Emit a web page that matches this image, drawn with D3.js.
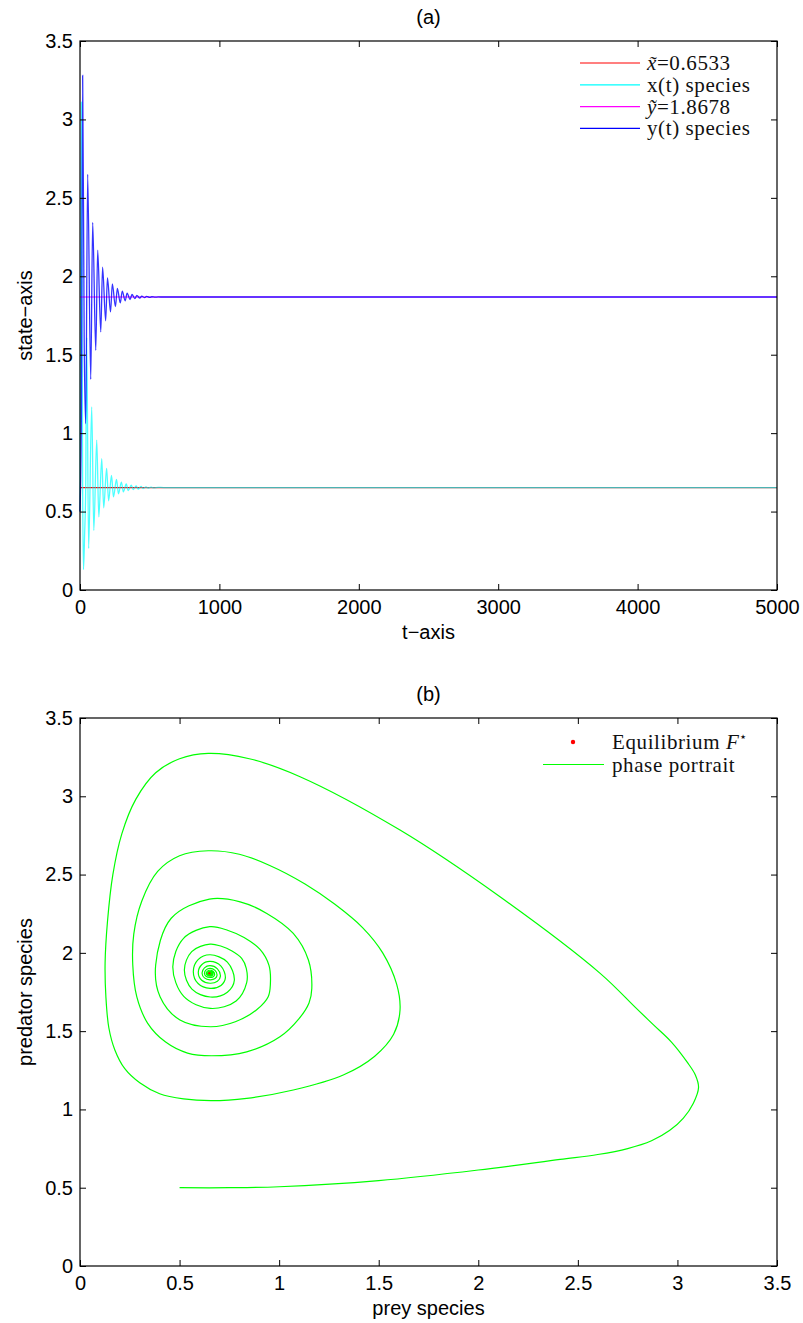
<!DOCTYPE html>
<html>
<head>
<meta charset="utf-8">
<script src="https://cdn.jsdelivr.net/npm/d3@7"></script>
<style>
  body { margin: 0; background: #fff; }
  .tick text { font-family: "Liberation Sans", Arial, sans-serif; font-size: 20px; fill: #000; }
  .tick line { stroke: #000; stroke-width: 1; }
  .lab { font-family: "Liberation Sans", Arial, sans-serif; font-size: 20px; fill: #000; }
  .leg { font-family: "Liberation Serif", "Times New Roman", serif; font-size: 21px; letter-spacing: 0.6px; fill: #111; }
</style>
</head>
<body>
<div id="chart"></div>
<script>
// equilibrium values
var xEq = 0.6533;
var yEq = 1.8678;

// tick labels
var tTicks = [0, 1000, 2000, 3000, 4000, 5000];
var stateTicks = [0, 0.5, 1, 1.5, 2, 2.5, 3, 3.5];
var preyTicks = [0, 0.5, 1, 1.5, 2, 2.5, 3, 3.5];
var predTicks = [0, 0.5, 1, 1.5, 2, 2.5, 3, 3.5];

// x(t) prey species, read at its turning points
var tX = [0, 4, 10, 15, 19, 25, 33, 41, 48, 62, 84, 99, 120, 135, 156, 170, 191, 205, 226, 240,
          262, 276, 297, 311, 332, 346, 368, 382, 403, 417, 438, 452, 474, 488, 510, 530, 560, 600, 5000];
var xT = [0.5, 1.6, 3.11, 1.8, 0.65, 0.13, 0.35, 0.66, 1.61, 0.265, 1.167, 0.38, 0.956, 0.466, 0.837, 0.524, 0.775, 0.569, 0.73, 0.594,
          0.705, 0.613, 0.688, 0.625, 0.676, 0.634, 0.668, 0.64, 0.663, 0.644, 0.66, 0.647, 0.657, 0.649, 0.6555, 0.651, 0.654, 0.6533, 0.6533];

// y(t) predator species, read at its turning points
var tY = [0, 10, 19, 30, 41, 55, 77, 91, 113, 127, 149, 162, 184, 197, 219, 232, 254, 268, 289, 303,
          324, 338, 359, 373, 394, 408, 429, 443, 464, 478, 500, 515, 540, 560, 600, 5000];
var yT = [0.5, 1.13, 3.28, 1.6, 1.06, 2.65, 1.343, 2.343, 1.528, 2.167, 1.645, 2.058, 1.716, 1.99, 1.773, 1.951, 1.807, 1.923, 1.83, 1.906,
          1.843, 1.893, 1.852, 1.884, 1.857, 1.878, 1.861, 1.874, 1.8635, 1.8715, 1.865, 1.8695, 1.8668, 1.8683, 1.8678, 1.8678];

// phase portrait (prey, predator), read along the trajectory
var phaseX = [0.5, 0.75, 1.0, 1.5, 2.0, 2.411, 2.6, 2.75, 2.87, 2.96, 3.03, 3.08, 3.106, 3.09, 3.05, 2.97, 2.88, 2.79, 2.612,
              2.109, 1.607, 1.105, 0.85, 0.644, 0.5, 0.38, 0.28, 0.21, 0.165, 0.138, 0.126, 0.13, 0.145, 0.175, 0.225, 0.3, 0.4,
              0.52, 0.661, 0.837, 1.071, 1.322, 1.48, 1.575, 1.607, 1.59, 1.52, 1.42, 1.28, 1.13, 0.95, 0.8, 0.644, 0.5, 0.39,
              0.31, 0.27, 0.265, 0.285, 0.34, 0.43, 0.54, 0.661, 0.837, 1.004, 1.1, 1.15, 1.164,
              1.147, 1.071, 0.938, 0.804, 0.65, 0.458, 0.38, 0.402, 0.502, 0.655, 0.78, 0.89, 0.945,
              0.956, 0.949, 0.904, 0.824, 0.744, 0.652, 0.52, 0.466, 0.521, 0.655, 0.784,
              0.837, 0.835, 0.812, 0.761, 0.71, 0.653, 0.561, 0.524, 0.562, 0.654, 0.74,
              0.775, 0.74, 0.653, 0.593, 0.569, 0.593, 0.653, 0.708,
              0.73, 0.708, 0.653, 0.611, 0.594, 0.611, 0.653, 0.69,
              0.705, 0.69, 0.653, 0.625, 0.613, 0.625, 0.653, 0.678,
              0.688, 0.678, 0.653, 0.633, 0.625, 0.633, 0.653, 0.669,
              0.676, 0.669, 0.653, 0.64, 0.634, 0.64, 0.653, 0.664,
              0.668, 0.664, 0.653, 0.644, 0.64, 0.644, 0.653, 0.661, 0.662, 0.657, 0.6533];
var phaseY = [0.5, 0.5, 0.506, 0.545, 0.613, 0.681, 0.712, 0.75, 0.8, 0.865, 0.945, 1.04, 1.14, 1.22, 1.3, 1.43, 1.54, 1.65, 1.869,
              2.358, 2.784, 3.125, 3.24, 3.274, 3.24, 3.15, 2.98, 2.76, 2.5, 2.2, 1.933, 1.72, 1.52, 1.38, 1.26, 1.17, 1.1,
              1.067, 1.056, 1.071, 1.124, 1.22, 1.34, 1.48, 1.635, 1.8, 2.0, 2.16, 2.31, 2.44, 2.56, 2.63, 2.652, 2.62, 2.52,
              2.33, 2.12, 1.922, 1.72, 1.55, 1.43, 1.36, 1.343, 1.368, 1.464, 1.58, 1.68, 1.773,
              1.954, 2.124, 2.252, 2.326, 2.343, 2.221, 1.922, 1.72, 1.571, 1.528, 1.56, 1.64, 1.72,
              1.8, 1.92, 2.022, 2.098, 2.143, 2.167, 2.093, 1.911, 1.722, 1.645, 1.693,
              1.81, 1.901, 1.965, 2.014, 2.042, 2.056, 2.008, 1.89, 1.768, 1.718, 1.749,
              1.825, 1.941, 1.988, 1.957, 1.88, 1.804, 1.773, 1.792,
              1.84, 1.915, 1.945, 1.924, 1.873, 1.825, 1.806, 1.819,
              1.85, 1.898, 1.918, 1.904, 1.87, 1.84, 1.828, 1.836,
              1.856, 1.888, 1.901, 1.891, 1.868, 1.85, 1.843, 1.848,
              1.86, 1.881, 1.889, 1.883, 1.867, 1.857, 1.853, 1.856,
              1.863, 1.876, 1.882, 1.877, 1.867, 1.861, 1.858, 1.862, 1.868, 1.873, 1.8678];

var svgWidth = 803;
var svgHeight = 1323;

var svg = d3.select("#chart")
            .append("svg")
            .attr("width", svgWidth)
            .attr("height", svgHeight)
            .style("background", "#fff");

// both panels share the same horizontal extent
var left = 80, right = 777;

// draws the box with inward ticks on all four sides
function drawFrame(g, xScale, yScale, xTicks, yTicks, xFmt, yFmt) {
  var w = right - left;
  var h = yScale.range()[0] - yScale.range()[1];

  g.append("g")
   .attr("transform", `translate(0, ${h})`)
   .call(d3.axisBottom(xScale).tickValues(xTicks).tickFormat(xFmt).tickSizeInner(-6).tickSizeOuter(0).tickPadding(10))
   .call(a => a.select(".domain").remove());
  g.append("g")
   .call(d3.axisTop(xScale).tickValues(xTicks).tickFormat("").tickSizeInner(-6).tickSizeOuter(0))
   .call(a => a.select(".domain").remove());
  g.append("g")
   .call(d3.axisLeft(yScale).tickValues(yTicks).tickFormat(yFmt).tickSizeInner(-6).tickSizeOuter(0).tickPadding(7))
   .call(a => a.select(".domain").remove());
  g.append("g")
   .attr("transform", `translate(${w}, 0)`)
   .call(d3.axisRight(yScale).tickValues(yTicks).tickFormat("").tickSizeInner(-6).tickSizeOuter(0))
   .call(a => a.select(".domain").remove());

  g.append("rect")
   .attr("width", w)
   .attr("height", h)
   .attr("fill", "none")
   .attr("stroke", "#000")
   .attr("stroke-width", 1.2);
}

var numFmt = d => String(d);

// ---------- panel (a) ----------
var topA = 41, bottomA = 590;
var gA = svg.append("g").attr("transform", `translate(${left}, ${topA})`);

var tScale = d3.scaleLinear().domain([0, 5000]).range([0, right - left]);
var sScale = d3.scaleLinear().domain([0, 3.5]).range([bottomA - topA, 0]);

var lineX = d3.line()
              .x((d, i) => tScale(tX[i]))
              .y(d => sScale(d))
              .curve(d3.curveMonotoneX);
var lineY = d3.line()
              .x((d, i) => tScale(tY[i]))
              .y(d => sScale(d))
              .curve(d3.curveMonotoneX);

var plotA = gA.append("g");

plotA.append("line")
     .attr("x1", tScale(0)).attr("x2", tScale(5000))
     .attr("y1", sScale(xEq)).attr("y2", sScale(xEq))
     .attr("stroke", "#ff0000").attr("stroke-width", 1.2);
plotA.append("path")
     .datum(xT)
     .attr("d", lineX)
     .attr("fill", "none")
     .attr("stroke", "#00ffff")
     .attr("stroke-opacity", 0.7)
     .attr("stroke-width", 1.3);
plotA.append("line")
     .attr("x1", tScale(0)).attr("x2", tScale(5000))
     .attr("y1", sScale(yEq)).attr("y2", sScale(yEq))
     .attr("stroke", "#ff00ff").attr("stroke-width", 1.2);
plotA.append("path")
     .datum(yT)
     .attr("d", lineY)
     .attr("fill", "none")
     .attr("stroke", "#0000ff")
     .attr("stroke-opacity", 0.8)
     .attr("stroke-width", 1.3);

drawFrame(gA, tScale, sScale, tTicks, stateTicks, numFmt, numFmt);

svg.append("text").attr("class", "lab")
   .attr("x", (left + right) / 2).attr("y", topA - 17)
   .attr("text-anchor", "middle").text("(a)");
svg.append("text").attr("class", "lab")
   .attr("x", (left + right) / 2).attr("y", bottomA + 49)
   .attr("text-anchor", "middle").text("t\u2212axis");
svg.append("text").attr("class", "lab")
   .attr("transform", `translate(32, ${(topA + bottomA) / 2}) rotate(-90)`)
   .attr("text-anchor", "middle").text("state\u2212axis");

// legend (a)
var legA = [
  { color: "#ff0000", name: "x\u0303", value: "=0.6533" },
  { color: "#00ffff", name: null, value: "x(t) species" },
  { color: "#ff00ff", name: "y\u0303", value: "=1.8678" },
  { color: "#0000ff", name: null, value: "y(t) species" }
];
legA.forEach(function(d, i) {
  var yy = 63 + i * 21.8;
  svg.append("line")
     .attr("x1", 580).attr("x2", 640)
     .attr("y1", yy).attr("y2", yy)
     .attr("stroke", d.color).attr("stroke-width", 1.2);
  var t = svg.append("text").attr("class", "leg").attr("x", 647).attr("y", yy + 7);
  if (d.name) t.append("tspan").attr("font-style", "italic").text(d.name);
  t.append("tspan").text(d.value);
});

// ---------- panel (b) ----------
var topB = 718, bottomB = 1266;
var gB = svg.append("g").attr("transform", `translate(${left}, ${topB})`);

var preyScale = d3.scaleLinear().domain([0, 3.5]).range([0, right - left]);
var predScale = d3.scaleLinear().domain([0, 3.5]).range([bottomB - topB, 0]);

gB.append("circle")
  .attr("cx", preyScale(xEq))
  .attr("cy", predScale(yEq))
  .attr("r", 2.5)
  .attr("fill", "#ff0000");

var phaseLine = d3.line()
                  .x((d, i) => preyScale(phaseX[i]))
                  .y(d => predScale(d))
                  .curve(d3.curveCatmullRom.alpha(0.5));

gB.append("path")
  .datum(phaseY)
  .attr("d", phaseLine)
  .attr("fill", "none")
  .attr("stroke", "#00ff00")
  .attr("stroke-width", 1.2);

drawFrame(gB, preyScale, predScale, preyTicks, predTicks, numFmt, numFmt);

svg.append("text").attr("class", "lab")
   .attr("x", (left + right) / 2).attr("y", topB - 17)
   .attr("text-anchor", "middle").text("(b)");
svg.append("text").attr("class", "lab")
   .attr("x", (left + right) / 2).attr("y", bottomB + 49)
   .attr("text-anchor", "middle").text("prey species");
svg.append("text").attr("class", "lab")
   .attr("transform", `translate(32, ${(topB + bottomB) / 2}) rotate(-90)`)
   .attr("text-anchor", "middle").text("predator species");

// legend (b)
svg.append("circle").attr("cx", 573).attr("cy", 742).attr("r", 2.2).attr("fill", "#ff0000");
var tb = svg.append("text").attr("class", "leg").attr("x", 612).attr("y", 749);
tb.append("tspan").text("Equilibrium ");
tb.append("tspan").attr("font-style", "italic").text("F");
tb.append("tspan").attr("font-size", "13px").attr("dy", -8).text("\u22c6");

svg.append("line")
   .attr("x1", 543).attr("x2", 604)
   .attr("y1", 764.5).attr("y2", 764.5)
   .attr("stroke", "#00ff00").attr("stroke-width", 1.2);
svg.append("text").attr("class", "leg").attr("x", 612).attr("y", 771.5).text("phase portrait");
</script>
</body>
</html>
